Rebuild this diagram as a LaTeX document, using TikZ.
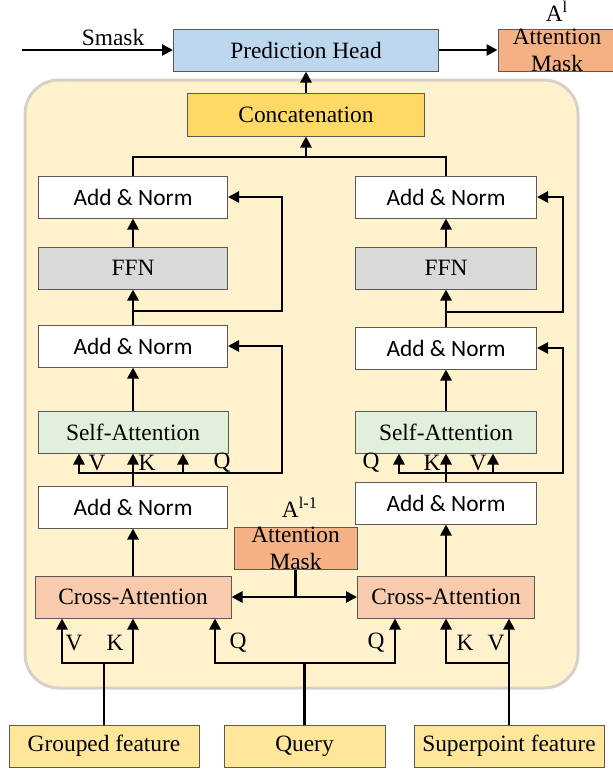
\documentclass[tikz,border=0pt]{standalone}
\usepackage{fontspec}
\setmainfont{Liberation Serif}
\newfontfamily\normfont{Carlito}
\usetikzlibrary{arrows.meta}

\definecolor{headblue}{HTML}{BDD7EE}
\definecolor{maskorange}{HTML}{F4B183}
\definecolor{crossorange}{HTML}{F8CBAD}
\definecolor{selfgreen}{HTML}{E2EFDA}
\definecolor{ffngray}{HTML}{D9D9D9}
\definecolor{concatgold}{HTML}{FFD966}
\definecolor{inputgold}{HTML}{FFE699}
\definecolor{layerbg}{HTML}{FFF2CC}
\definecolor{layerrim}{HTML}{D6D1C6}
\definecolor{rimgray}{HTML}{595959}

\begin{document}
\begin{tikzpicture}[x=0.5pt, y=-0.5pt, line width=1.3pt,
	every node/.style = {font=\fontsize{11.7}{13.5}\selectfont},
	arr/.style = {-{Triangle[length=5.5pt, width=5.5pt]}},
	blk/.style = {draw=rimgray, line width=0.5pt, minimum height=21pt,
		inner sep=0pt, align=center},
	addnorm/.style = {blk, fill=white,
		font=\fontsize{11.7}{13.5}\selectfont\normfont},
	ffn/.style = {blk, fill=ffngray},
	selfatt/.style = {blk, fill=selfgreen},
	crossatt/.style = {blk, fill=crossorange},
	maskbox/.style = {blk, fill=maskorange},
	inbox/.style = {blk, fill=inputgold},
	masktext/.style = {align=center, inner sep=0pt}]

	\useasboundingbox (0,0) rectangle (613,771);

	% decoder layer background
	\filldraw[fill=layerbg, draw=layerrim, line width=1.5pt, rounded corners=17pt]
		(25,80) rectangle (578,688);

	% top
	\node[blk, fill=headblue, minimum width=132.5pt] (predhead) at (306,50) {Prediction Head};
	\node[maskbox, minimum width=59pt] (topmask) at (557,50) {};
	\node[masktext] (topmasklabel) at (topmask) {Attention\\Mask};
	\node[inner sep=1pt] (topmaskidx) at (557,11) {A\textsuperscript{l}};
	\node (smasklabel) at (113,37) {Smask};
	\node[blk, fill=concatgold, minimum width=118.5pt, minimum height=21.5pt] (concat) at (306,114.5) {Concatenation};

	% left branch
	\node[addnorm, minimum width=94.5pt] (lan3) at (133,197) {Add \& Norm};
	\node[ffn, minimum width=94.5pt] (lffn) at (133,268) {FFN};
	\node[addnorm, minimum width=94.5pt] (lan2) at (133,346) {Add \& Norm};
	\node[selfatt, minimum width=95pt] (lsa) at (133,432) {Self-Attention};
	\node[addnorm, minimum width=94.5pt] (lan1) at (133,507) {Add \& Norm};
	\node[crossatt, minimum width=98pt] (lca) at (133,597) {Cross-Attention};

	% right branch
	\node[addnorm, minimum width=90.5pt] (ran3) at (446,197) {Add \& Norm};
	\node[ffn, minimum width=90.5pt] (rffn) at (446,268) {FFN};
	\node[addnorm, minimum width=90.5pt] (ran2) at (446,348) {Add \& Norm};
	\node[selfatt, minimum width=90.5pt] (rsa) at (446,432) {Self-Attention};
	\node[addnorm, minimum width=90.5pt] (ran1) at (446,503) {Add \& Norm};
	\node[crossatt, minimum width=88.5pt] (rca) at (446,597) {Cross-Attention};

	% previous mask
	\node[maskbox, minimum width=61.5pt] (midmask) at (295.5,548) {};
	\node[masktext] (midmasklabel) at (midmask) {Attention\\Mask};
	\node[inner sep=1pt] (midmaskidx) at (300,507) {A\textsuperscript{l-1}};

	% inputs
	\node[inbox, minimum width=95pt] (grouped) at (104,746) {Grouped feature};
	\node[inbox, minimum width=80.5pt] (query) at (304.5,746) {Query};
	\node[inbox, minimum width=95pt] (superpoint) at (509,746) {Superpoint feature};

	% q k v labels
	\node (lsav) at (97,463) {V};
	\node (lsak) at (147,463) {K};
	\node (lsaq) at (222,463) {Q};
	\node (rsaq) at (371,463) {Q};
	\node (rsak) at (432,463) {K};
	\node (rsav) at (478,463) {V};
	\node (lcav) at (74,643) {V};
	\node (lcak) at (115,643) {K};
	\node (lcaq) at (238,643) {Q};
	\node (rcaq) at (376,643) {Q};
	\node (rcak) at (465,643) {K};
	\node (rcav) at (496,643) {V};

	% top connections
	\coordinate (smaskin) at (22,50);
	\draw[arr] (smaskin) -- (predhead.west);
	\draw[arr] (predhead.east) -- (topmask.west);
	\draw[arr] (concat.north) -- (predhead.south);
	\coordinate (topbus) at (306,157);
	\draw (lan3.north) |- (topbus) -| (ran3.north);
	\draw[arr] (topbus) -- (concat.south);

	% left branch connections
	\coordinate (lskip) at (282,0);
	\coordinate (lbranch) at (133,311);
	\coordinate (lbus) at (133,473);
	\draw[arr] (lffn.north) -- (lan3.south);
	\draw[arr] (lan2.north) -- (lffn.south);
	\draw[arr] (lbranch) -- (lbranch -| lskip) |- (lan3.east);
	\draw[arr] (lsa.north) -- (lan2.south);
	\draw[arr] (lan1.north) -- (lsa.south);
	\draw[arr] (lbus) -| ([xshift=-27pt]lsa.south);
	\draw[arr] (lbus) -| ([xshift=25pt]lsa.south);
	\draw[arr] (lbus) -- (lbus -| lskip) |- (lan2.east);
	\draw[arr] (lca.north) -- (lan1.south);

	% right branch connections
	\coordinate (rskip) at (563,0);
	\coordinate (rbranch) at (446,312);
	\coordinate (rbus) at (446,473);
	\draw[arr] (rffn.north) -- (ran3.south);
	\draw[arr] (ran2.north) -- (rffn.south);
	\draw[arr] (rbranch) -- (rbranch -| rskip) |- (ran3.east);
	\draw[arr] (rsa.north) -- (ran2.south);
	\draw[arr] (ran1.north) -- (rsa.south);
	\draw[arr] (rbus) -| ([xshift=-23.5pt]rsa.south);
	\draw[arr] (rbus) -| ([xshift=23.5pt]rsa.south);
	\draw[arr] (rbus) -- (rbus -| rskip) |- (ran2.east);
	\draw[arr] (rca.north) -- (ran1.south);

	% mask to both cross attentions
	\coordinate (maskjoin) at (midmask.south |- lca.east);
	\draw (midmask.south) -- (maskjoin);
	\draw[arr] (maskjoin) -- (lca.east);
	\draw[arr] (maskjoin) -- (rca.west);

	% inputs to cross attentions
	\coordinate (gbus) at (104,663);
	\coordinate (qbus) at (304.5,663);
	\coordinate (sbus) at (509,663);
	\draw (grouped.north) -- (gbus);
	\draw[arr] (gbus) -| ([xshift=-35.5pt]lca.south);
	\draw[arr] (gbus) -| (lca.south);
	\draw (query.north) -- (qbus);
	\draw[arr] (qbus) -| ([xshift=41pt]lca.south);
	\draw[arr] (qbus) -| ([xshift=-25.5pt]rca.south);
	\draw[arr] (superpoint.north) -- (superpoint.north |- rca.south);
	\draw[arr] (sbus) -| (rca.south);
\end{tikzpicture}
\end{document}
